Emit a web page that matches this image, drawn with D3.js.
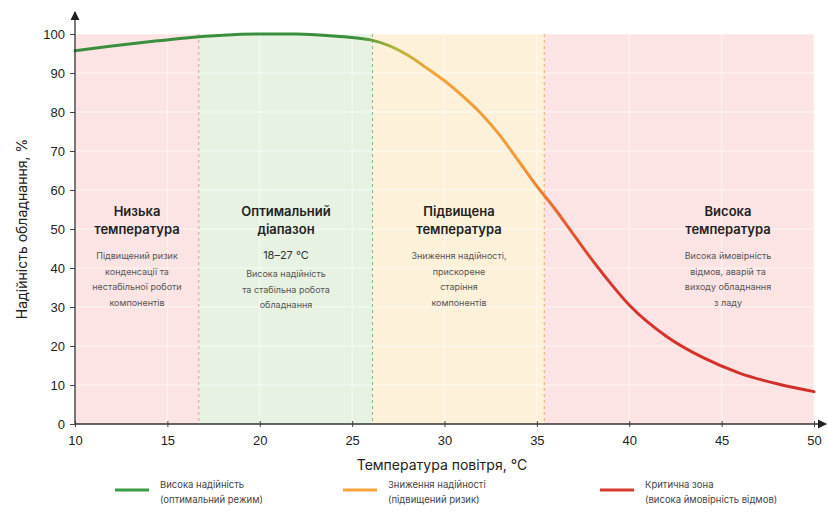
<!DOCTYPE html>
<html>
<head>
<meta charset="utf-8">
<script src="https://cdn.jsdelivr.net/npm/d3@7"></script>
<style>
    body { margin: 0; background: #fff; }
    svg { font-family: "Inter", "Roboto", sans-serif; display: block; }
</style>
</head>
<body>
<div id="chart"></div>
<script>
// data
let temps = [10, 12, 14, 16, 18, 20, 22, 24, 25, 26, 27, 28, 29, 30, 31, 32, 33, 34, 35, 36, 37, 38, 39, 40, 42, 44, 46, 48, 50];
let reliability = [95.7, 96.9, 98, 99, 99.7, 100, 100, 99.5, 99.1, 98.5, 97, 94.6, 91.4, 88, 84, 79.5, 74, 67.5, 61, 55, 48.5, 42, 36, 30.5, 22.5, 17, 13, 10.3, 8.3];
let xTicks = [10, 15, 20, 25, 30, 35, 40, 45, 50];
let yTicks = [0, 10, 20, 30, 40, 50, 60, 70, 80, 90, 100];

let zones = [
    {from: 10, to: 16.7, fill: "#fde4e4", line: null, cx: 137,
        title: ["Низька", "температура"],
        desc: ["Підвищений ризик", "конденсації та", "нестабільної роботи", "компонентів"]},
    {from: 16.7, to: 26.1, fill: "#e8f2e2", line: "#e29a9a", cx: 286,
        title: ["Оптимальний", "діапазон"], range: "18–27 °C",
        desc: ["Висока надійність", "та стабільна робота", "обладнання"]},
    {from: 26.1, to: 35.4, fill: "#fdf1da", line: "#7fb87f", cx: 459,
        title: ["Підвищена", "температура"],
        desc: ["Зниження надійності,", "прискорене", "старіння", "компонентів"]},
    {from: 35.4, to: 50, fill: "#fde4e4", line: "#f0a860", cx: 728,
        title: ["Висока", "температура"],
        desc: ["Висока ймовірність", "відмов, аварій та", "виходу обладнання", "з ладу"]}
];

let legendItems = [
    {color: "#3d9a45", x: 115, lines: ["Висока надійність", "(оптимальний режим)"]},
    {color: "#f5a53c", x: 343, lines: ["Зниження надійності", "(підвищений ризик)"]},
    {color: "#d93a30", x: 600, lines: ["Критична зона", "(висока ймовірність відмов)"]}
];

let width = 827, height = 519;
let svg = d3.select("#chart").append("svg")
    .attr("width", width)
    .attr("height", height);

let x = d3.scaleLinear().domain([10, 50]).range([75, 814]);
let y = d3.scaleLinear().domain([0, 100]).range([424, 34]);

// zone backgrounds
svg.selectAll(".zone")
    .data(zones)
    .enter().append("rect")
    .attr("x", d => x(d.from))
    .attr("y", y(100))
    .attr("width", d => x(d.to) - x(d.from))
    .attr("height", y(0) - y(100))
    .attr("fill", d => d.fill);

// faint grid
svg.append("g").selectAll("line")
    .data(yTicks.slice(1))
    .enter().append("line")
    .attr("x1", x(10)).attr("x2", x(50))
    .attr("y1", d => y(d)).attr("y2", d => y(d))
    .attr("stroke", "#fff").attr("stroke-opacity", 0.6);
svg.append("g").selectAll("line")
    .data(xTicks.slice(1))
    .enter().append("line")
    .attr("x1", d => x(d)).attr("x2", d => x(d))
    .attr("y1", y(100)).attr("y2", y(0))
    .attr("stroke", "#fff").attr("stroke-opacity", 0.6);

// dashed boundaries
svg.selectAll(".bound")
    .data(zones.filter(d => d.line))
    .enter().append("line")
    .attr("x1", d => x(d.from)).attr("x2", d => x(d.from))
    .attr("y1", y(100)).attr("y2", y(0))
    .attr("stroke", d => d.line)
    .attr("stroke-width", 1)
    .attr("stroke-dasharray", "3,3");

// curve gradient along x
let defs = svg.append("defs");
let grad = defs.append("linearGradient")
    .attr("id", "curveGrad")
    .attr("gradientUnits", "userSpaceOnUse")
    .attr("x1", x(10)).attr("x2", x(50))
    .attr("y1", 0).attr("y2", 0);
[[10, "#3a8f3e"], [25.3, "#3a8f3e"], [27.3, "#b4b63a"], [29.3, "#f3a43a"], [34, "#f39a36"], [38.5, "#d8352c"], [50, "#d02e2a"]]
    .forEach(s => grad.append("stop")
        .attr("offset", (s[0] - 10) / 40)
        .attr("stop-color", s[1]));

let line = d3.line()
    .x(d => x(d[0]))
    .y(d => y(d[1]))
    .curve(d3.curveMonotoneX);

svg.append("path")
    .datum(temps.map((t, i) => [t, reliability[i]]))
    .attr("d", line)
    .attr("fill", "none")
    .attr("stroke", "url(#curveGrad)")
    .attr("stroke-width", 3)
    .attr("stroke-linecap", "round");

// axes
let xAxis = svg.append("g")
    .attr("transform", "translate(0," + y(0) + ")")
    .call(d3.axisBottom(x).tickValues(xTicks).tickSize(4).tickSizeOuter(0));
xAxis.select(".domain").remove();
xAxis.selectAll(".tick line").attr("stroke", "#444").attr("y1", -3).attr("y2", 3);
xAxis.selectAll(".tick text")
    .attr("y", 12)
    .attr("fill", "#222")
    .style("font-size", "13px");

let yAxis = svg.append("g")
    .attr("transform", "translate(" + x(10) + ",0)")
    .call(d3.axisLeft(y).tickValues(yTicks).tickSize(5).tickSizeOuter(0));
yAxis.select(".domain").remove();
yAxis.selectAll(".tick line").attr("stroke", "#444");
yAxis.selectAll(".tick text")
    .attr("x", -10)
    .attr("fill", "#222")
    .style("font-size", "13px");

// axis lines with arrows
defs.append("marker")
    .attr("id", "arrow")
    .attr("viewBox", "0 0 10 10")
    .attr("refX", 9).attr("refY", 5)
    .attr("markerWidth", 7).attr("markerHeight", 7)
    .attr("orient", "auto")
    .append("path")
    .attr("d", "M0,0 L10,5 L0,10 z")
    .attr("fill", "#222");

svg.append("line")
    .attr("x1", x(10)).attr("x2", x(10))
    .attr("y1", y(0)).attr("y2", 12)
    .attr("stroke", "#333").attr("stroke-width", 1.3)
    .attr("marker-end", "url(#arrow)");
svg.append("line")
    .attr("x1", x(10)).attr("x2", 826)
    .attr("y1", y(0)).attr("y2", y(0))
    .attr("stroke", "#333").attr("stroke-width", 1.3)
    .attr("marker-end", "url(#arrow)");

// axis titles
svg.append("text")
    .attr("x", 442).attr("y", 470)
    .attr("text-anchor", "middle")
    .attr("fill", "#222")
    .style("font-size", "14px")
    .text("Температура повітря, °C");

svg.append("text")
    .attr("transform", "translate(27," + y(50) + ") rotate(-90)")
    .attr("text-anchor", "middle")
    .attr("fill", "#222")
    .style("font-size", "14px")
    .text("Надійність обладнання, %");

// zone labels
zones.forEach(z => {
    let g = svg.append("g");
    z.title.forEach((t, i) => {
        g.append("text")
            .attr("x", z.cx).attr("y", 216 + i * 18)
            .attr("text-anchor", "middle")
            .attr("fill", "#222")
            .style("font-size", "13px")
            .style("font-weight", "600")
            .text(t);
    });
    let yy = 259;
    if (z.range) {
        g.append("text")
            .attr("x", z.cx).attr("y", yy)
            .attr("text-anchor", "middle")
            .attr("fill", "#333")
            .style("font-size", "11px")
            .text(z.range);
        yy += 18;
    }
    z.desc.forEach((t, i) => {
        g.append("text")
            .attr("x", z.cx).attr("y", yy + i * 15.5)
            .attr("text-anchor", "middle")
            .attr("fill", "#555")
            .style("font-size", "9px")
            .text(t);
    });
});

// legend
legendItems.forEach(l => {
    svg.append("line")
        .attr("x1", l.x).attr("x2", l.x + 34)
        .attr("y1", 490).attr("y2", 490)
        .attr("stroke", l.color)
        .attr("stroke-width", 3);
    l.lines.forEach((t, i) => {
        svg.append("text")
            .attr("x", l.x + 45).attr("y", 488 + i * 15)
            .attr("fill", "#444")
            .style("font-size", "9.5px")
            .text(t);
    });
});
</script>
</body>
</html>
